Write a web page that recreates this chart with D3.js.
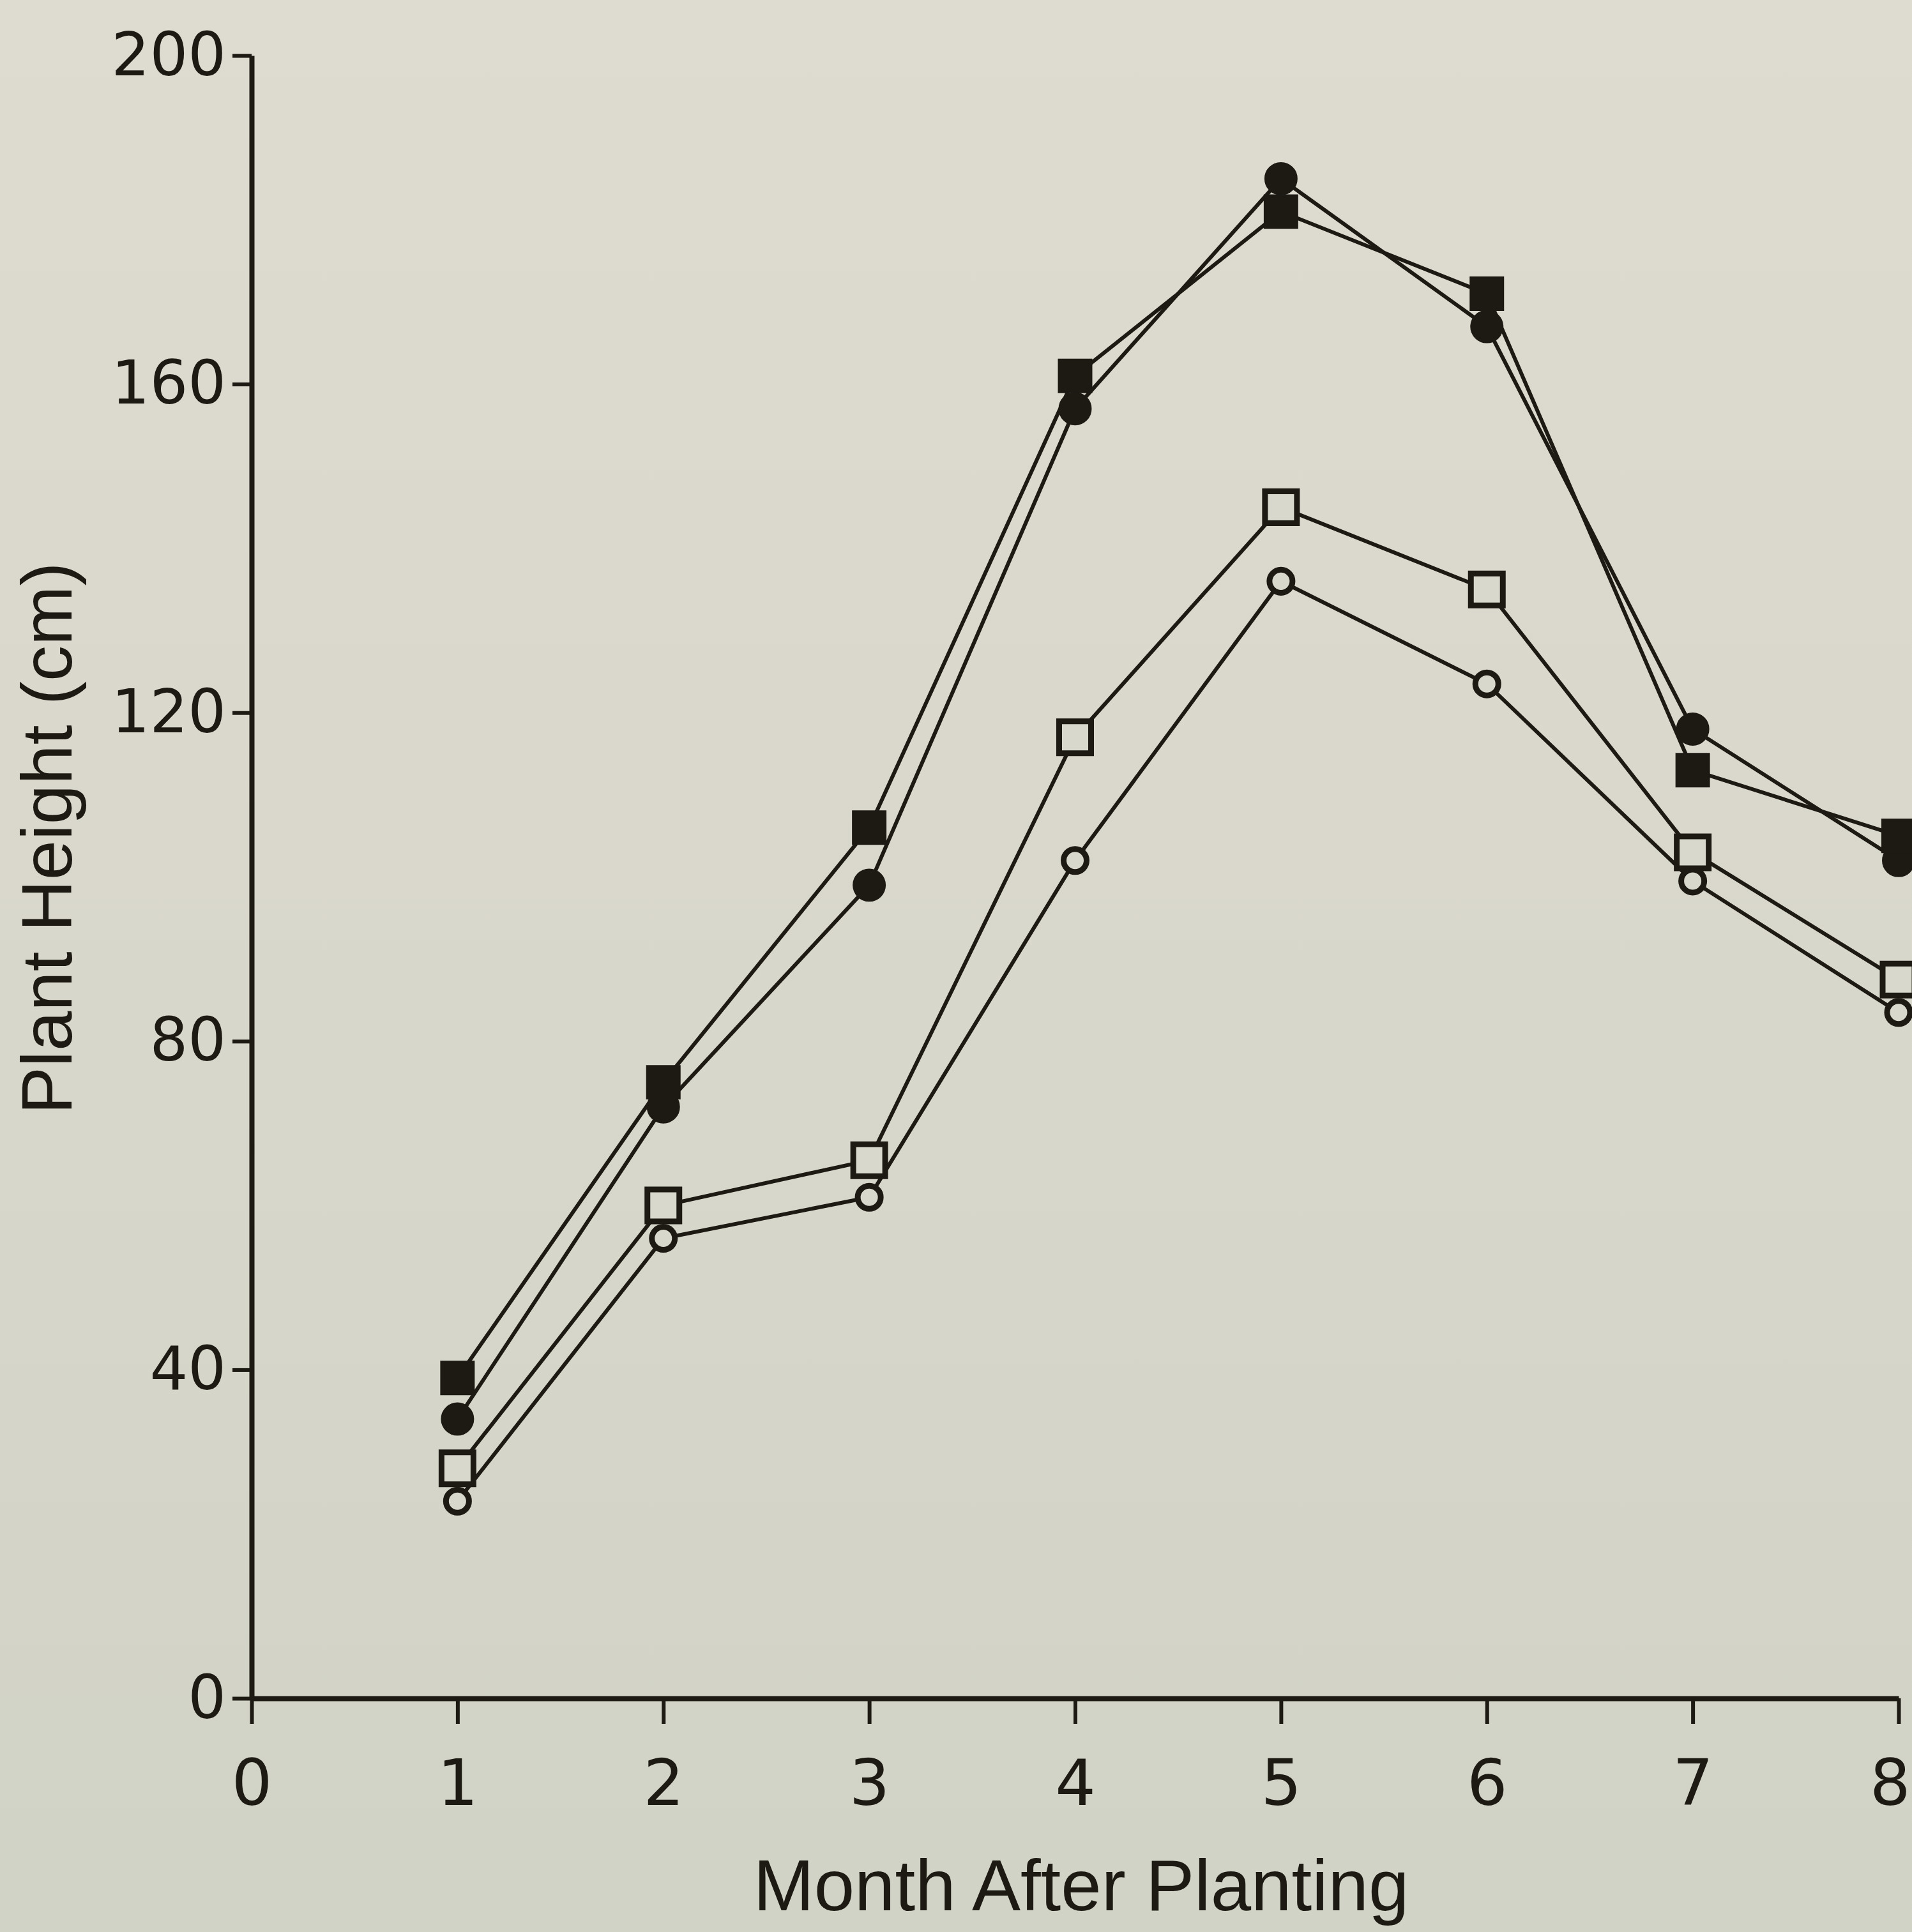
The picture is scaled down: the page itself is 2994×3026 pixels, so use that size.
<!DOCTYPE html>
<html lang="en">

<head>
    <meta charset="UTF-8">
    <title>Plant Height</title>
    <style>
        body {
            margin: 0;
            padding: 0;
            background: linear-gradient(180deg, #dedbd0 0%, #d8d7cb 55%, #d1d3c6 100%);
        }

        svg {
            display: block;
        }

        .axis path,
        .axis line {
            stroke: #1d1a14;
        }

        .axis text {
            font-family: "DejaVu Sans", sans-serif;
            fill: #1d1a14;
        }

        .title {
            font-family: "Liberation Sans", Arial, sans-serif;
            fill: #1d1a14;
        }
    </style>
</head>

<body>
    <svg id="chart"></svg>

    <script src="https://cdnjs.cloudflare.com/ajax/libs/d3/7.9.0/d3.min.js"></script>
    <script>
        // values (cm)
        const months = [1, 2, 3, 4, 5, 6, 7, 8];
        const filledSquare = [39, 75, 106, 161, 181, 171, 113, 105];
        const filledCircle = [34, 72, 99, 157, 185, 167, 118, 102];
        const openSquare = [28, 60, 65.5, 117, 145, 135, 103, 87.5];
        const openCircle = [24, 56, 61, 102, 136, 123.5, 99.5, 83.5];

        const xTicks = [0, 1, 2, 3, 4, 5, 6, 7, 8];
        const yTicks = [0, 40, 80, 120, 160, 200];

        const width = 2994;
        const height = 3026;
        const ink = '#1d1a14';
        const paper = '#d9d8cc';

        const series = [
            { values: openCircle, shape: d3.symbolCircle, size: 1020, filled: false },
            { values: openSquare, shape: d3.symbolSquare, size: 2500, filled: false },
            { values: filledCircle, shape: d3.symbolCircle, size: 1960, filled: true },
            { values: filledSquare, shape: d3.symbolSquare, size: 2700, filled: true }
        ];

        const x = d3.scaleLinear().domain([0, 8]).range([394, 2973]);
        const y = d3.scaleLinear().domain([0, 200]).range([2660, 87]);

        const svg = d3.select('#chart')
            .attr('width', width)
            .attr('height', height);

        // axes
        const xAxis = svg.append('g')
            .attr('class', 'axis')
            .attr('transform', `translate(0,${y(0)})`)
            .call(d3.axisBottom(x).tickValues(xTicks).tickSize(40).tickSizeOuter(0).tickPadding(56).tickFormat(d3.format('d')));

        const yAxis = svg.append('g')
            .attr('class', 'axis')
            .attr('transform', `translate(${x(0)},0)`)
            .call(d3.axisLeft(y).tickValues(yTicks).tickSize(30).tickSizeOuter(0).tickPadding(10).tickFormat(d3.format('d')));

        xAxis.select('.domain').attr('stroke-width', 8);
        yAxis.select('.domain').attr('stroke-width', 8);
        xAxis.selectAll('line').attr('stroke-width', 6);
        yAxis.selectAll('line').attr('stroke-width', 6);
        xAxis.selectAll('text').attr('font-size', 100);
        yAxis.selectAll('text').attr('font-size', 94);

        // last month label sits at the page edge, keep it inside
        xAxis.selectAll('.tick text')
            .filter(d => d === 8)
            .attr('text-anchor', 'end')
            .attr('x', 18);

        // lines
        const line = d3.line()
            .x((d, i) => x(months[i]))
            .y(d => y(d));

        svg.append('g')
            .selectAll('path')
            .data(series)
            .enter().append('path')
            .attr('d', d => line(d.values))
            .attr('fill', 'none')
            .attr('stroke', ink)
            .attr('stroke-width', 6);

        // markers
        series.forEach(s => {
            svg.append('g')
                .selectAll('path')
                .data(s.values)
                .enter().append('path')
                .attr('transform', (d, i) => `translate(${x(months[i])},${y(d)})`)
                .attr('d', d3.symbol().type(s.shape).size(s.size))
                .attr('fill', s.filled ? ink : paper)
                .attr('stroke', ink)
                .attr('stroke-width', s.filled ? 2 : 9);
        });

        // axis titles
        svg.append('text')
            .attr('class', 'title')
            .attr('x', 1693)
            .attr('y', 2992)
            .attr('text-anchor', 'middle')
            .attr('font-size', 114)
            .text('Month After Planting');

        svg.append('text')
            .attr('class', 'title')
            .attr('transform', 'translate(112,1313) rotate(-90)')
            .attr('text-anchor', 'middle')
            .attr('font-size', 112)
            .text('Plant Height (cm)');
    </script>
</body>

</html>
